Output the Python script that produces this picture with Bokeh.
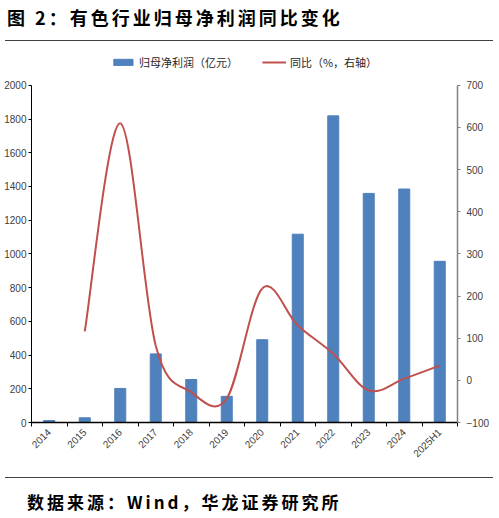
#!/usr/bin/env python

import math

from bokeh.plotting import figure
from bokeh.models import Range1d, LinearAxis, FixedTicker, Div
from bokeh.layouts import column
from bokeh.embed import file_html
from bokeh.resources import INLINE

title_text = "图 2：有色行业归母净利润同比变化"
source_text = "数据来源：Wind，华龙证券研究所"

categories = ["2014", "2015", "2016", "2017", "2018", "2019",
              "2020", "2021", "2022", "2023", "2024", "2025H1"]
# 归母净利润（亿元）
profit = [12, 28, 202, 407, 255, 155, 491, 1117, 1819, 1359, 1385, 956]
# 同比（%，右轴）
growth = [None, 116, 610, 82, -28, -43, 218, 130, 63, -24, 4, 35]

left_ticks = list(range(0, 2001, 200))
right_ticks = list(range(-100, 701, 100))

CJK = "Noto Sans CJK SC"
NUM = "Liberation Sans"
W = 499


def text_block(height, label, text_top, text_left, size, rule_top):
    html = (
        f'<div style="position:relative;width:{W}px;height:{height}px;">'
        f'<div style="position:absolute;left:{text_left}px;top:{text_top}px;white-space:nowrap;'
        f"font-family:'{CJK}';font-weight:bold;font-size:{size}px;line-height:26px;"
        f'letter-spacing:3px;color:#000;">{label}</div>'
        f'<div style="position:absolute;left:5px;top:{rule_top}px;width:488px;height:0;'
        f'border-top:1px solid #404040;"></div>'
        f'</div>'
    )
    return Div(text=html, width=W, height=height, margin=0)


def main():
    x_idx = list(range(len(categories)))

    p = figure(width=W, height=418, output_backend="svg", toolbar_location=None,
               x_range=Range1d(-0.5, len(categories) - 0.5), y_range=Range1d(0, 2183),
               min_border_left=31, min_border_right=42, min_border_top=6,
               min_border_bottom=42, outline_line_color=None)
    p.extra_y_ranges = {"pct": Range1d(-100, 773)}
    p.xgrid.visible = False
    p.ygrid.visible = False

    p.vbar(x=x_idx, top=profit, width=0.31, color="#4F81BD",
           legend_label="归母净利润（亿元）")

    # smoothed line like the original spreadsheet chart
    pts = [(i, v) for i, v in zip(x_idx, growth) if v is not None]
    x0, y0, x1, y1, cx0, cy0, cx1, cy1 = ([] for _ in range(8))
    for k in range(len(pts) - 1):
        a = pts[k - 1] if k > 0 else pts[k]
        b = pts[k]
        c = pts[k + 1]
        d = pts[k + 2] if k + 2 < len(pts) else pts[k + 1]
        x0.append(b[0]); y0.append(b[1])
        x1.append(c[0]); y1.append(c[1])
        cx0.append(b[0] + (c[0] - a[0]) / 6); cy0.append(b[1] + (c[1] - a[1]) / 6)
        cx1.append(c[0] - (d[0] - b[0]) / 6); cy1.append(c[1] - (d[1] - b[1]) / 6)
    p.bezier(x0=x0, y0=y0, x1=x1, y1=y1, cx0=cx0, cy0=cy0, cx1=cx1, cy1=cy1,
             line_color="#C0504D", line_width=2, y_range_name="pct",
             legend_label="同比（%，右轴）")

    # left axis
    ya = p.yaxis[0]
    ya.ticker = FixedTicker(ticks=left_ticks)
    ya.bounds = (0, 2000)
    ya.axis_line_color = "black"
    ya.major_tick_line_color = "black"
    ya.major_tick_out = 3
    ya.major_tick_in = 0
    ya.minor_tick_out = 0
    ya.minor_tick_in = 0
    ya.major_label_standoff = 2
    ya.major_label_text_font = NUM
    ya.major_label_text_font_size = "10px"
    ya.major_label_text_color = "#404040"

    # right axis
    ra = LinearAxis(y_range_name="pct", ticker=FixedTicker(ticks=right_ticks),
                    bounds=(-100, 700))
    ra.axis_line_color = "#808080"
    ra.axis_line_width = 1.5
    ra.major_tick_line_color = "#808080"
    ra.major_tick_out = 3
    ra.major_tick_in = 0
    ra.minor_tick_out = 0
    ra.minor_tick_in = 0
    ra.major_label_standoff = 6
    ra.major_label_text_font = NUM
    ra.major_label_text_font_size = "10px"
    ra.major_label_text_color = "#404040"
    p.add_layout(ra, "right")

    # bottom axis: ticks between categories, labels at centres
    xa = p.xaxis[0]
    xa.ticker = FixedTicker(ticks=x_idx, minor_ticks=[i - 0.5 for i in range(len(categories) + 1)])
    xa.major_label_overrides = {i: c for i, c in zip(x_idx, categories)}
    xa.major_label_orientation = math.pi / 4
    xa.axis_line_color = "black"
    xa.axis_line_width = 1.5
    xa.major_tick_out = 0
    xa.major_tick_in = 0
    xa.minor_tick_line_color = "black"
    xa.minor_tick_out = 4
    xa.minor_tick_in = 0
    xa.major_label_standoff = 4
    xa.major_label_text_font = NUM
    xa.major_label_text_font_size = "10px"
    xa.major_label_text_color = "#404040"

    lg = p.legend[0]
    lg.location = "top_center"
    lg.orientation = "horizontal"
    lg.border_line_color = None
    lg.background_fill_alpha = 0
    lg.margin = 0
    lg.padding = 10
    lg.spacing = 24
    lg.glyph_width = 24
    lg.glyph_height = 8
    lg.label_height = 12
    lg.label_standoff = 4
    lg.label_text_font = CJK
    lg.label_text_font_size = "11px"
    lg.label_text_color = "#262626"

    header = text_block(48, title_text, 4, 7, 18, 40)
    footer = text_block(52, source_text, 23, 27, 17, 11)

    layout = column(header, p, footer, spacing=0)
    open("out.html", "w").write(file_html(layout, INLINE))


if __name__ == "__main__":
    main()
